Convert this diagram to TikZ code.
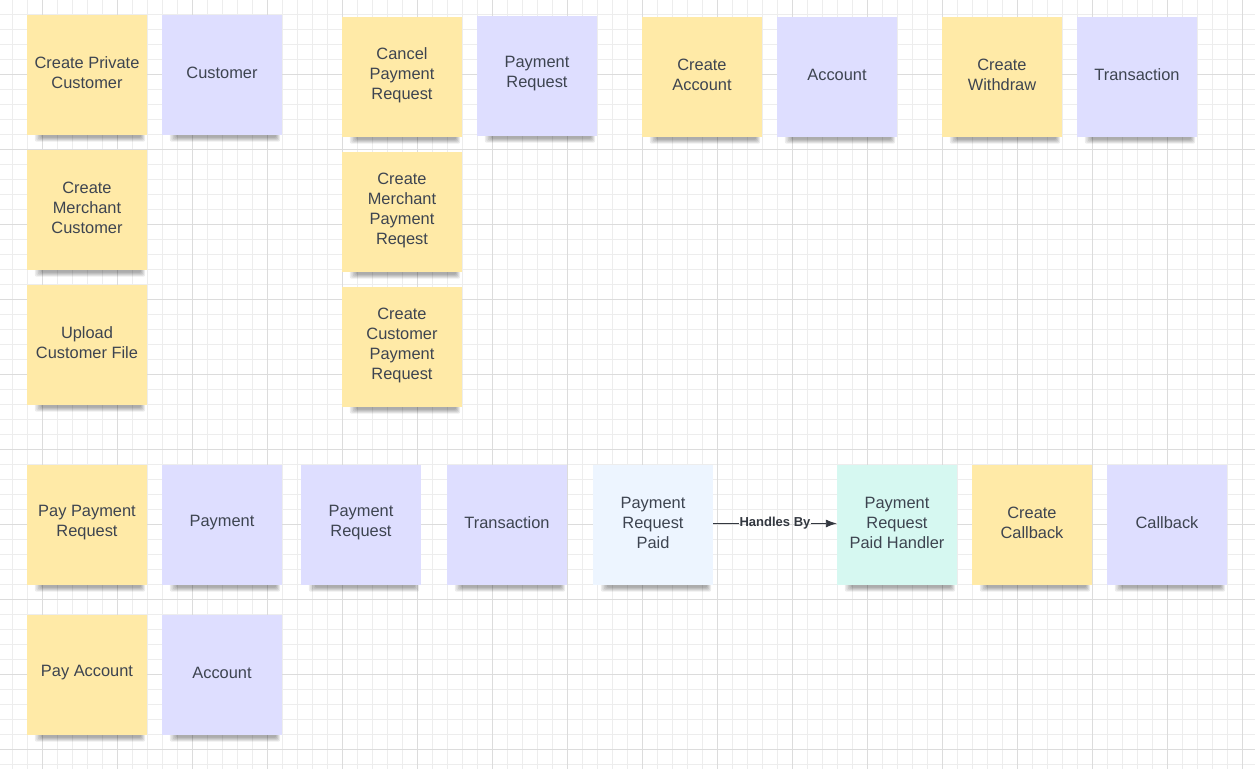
\documentclass[tikz,border=0pt]{standalone}
\usepackage{fontspec}
\setmainfont{Liberation Sans}
\usetikzlibrary{arrows.meta,calc}
\pgfdeclarelayer{gridlayer}
\pgfdeclarelayer{shadowlayer}
\pgfsetlayers{gridlayer,shadowlayer,main}
\definecolor{gridminor}{HTML}{EDEDED}
\definecolor{gridmajor}{HTML}{DCDCDC}
\definecolor{noteyellow}{HTML}{FFEAA7}
\definecolor{notelav}{HTML}{DEDEFF}
\definecolor{noteblue}{HTML}{EDF5FF}
\definecolor{notemint}{HTML}{D6F8F1}
\definecolor{notetext}{HTML}{3D4450}
\definecolor{arrowcol}{HTML}{333840}
\tikzset{
  notelabel/.style={align=center, text=notetext, font=\fontsize{16.4bp}{20bp}\selectfont,
    inner sep=0pt, yshift=2bp},
  note/.style={rectangle, minimum width=120bp, minimum height=120bp, inner sep=0pt,
    label={[notelabel]center:{#1}}},
  yel/.style={note={#1}, fill=noteyellow},
  lav/.style={note={#1}, fill=notelav},
  lblue/.style={note={#1}, fill=noteblue},
  mint/.style={note={#1}, fill=notemint},
  shadowpiece/.style={fill=black, opacity=0.075, rounded corners=2bp},
  conlabel/.style={font=\fontsize{13bp}{15bp}\selectfont\bfseries, text=arrowcol, inner sep=0pt},
  conline/.style={draw=arrowcol, line width=0.9bp}
}
\begin{document}
\begin{tikzpicture}[x=1bp,y=-1bp]
\useasboundingbox (0,0) rectangle (1255,769);
\begin{pgfonlayer}{gridlayer}
\fill[white] (0,0) rectangle (1255,769);
\foreach \i in {0,...,83} {
  \draw[gridminor, line width=1bp] ({12.5+15*\i},0) -- ({12.5+15*\i},769);
}
\foreach \i in {0,...,51} {
  \draw[gridminor, line width=1bp] (0,{-0.5+15*\i}) -- (1255,{-0.5+15*\i});
}
\foreach \i in {0,...,16} {
  \draw[gridmajor, line width=1bp] ({42.5+75*\i},0) -- ({42.5+75*\i},769);
}
\foreach \i in {0,...,10} {
  \draw[gridmajor, line width=1bp] (0,{-0.5+75*\i}) -- (1255,{-0.5+75*\i});
}
\end{pgfonlayer}
% top section
\node[yel={Create Private\\Customer}] (cpc) at (87,75) {};
\node[lav={Customer}] (cust) at (222,75) {};
\node[yel={Create\\Merchant\\Customer}] (cmc) at (87,210) {};
\node[yel={Upload\\Customer File}] (ucf) at (87,345) {};
\node[yel={Cancel\\Payment\\Request}] (cpr) at (402,77) {};
\node[lav={Payment\\Request}] (pr1) at (537,76) {};
\node[yel={Create\\Merchant\\Payment\\Reqest}] (cmpr) at (402,212) {};
\node[yel={Create\\Customer\\Payment\\Request}] (ccpr) at (402,347) {};
\node[yel={Create\\Account}] (cacc) at (702,77) {};
\node[lav={Account}] (acc1) at (837,77) {};
\node[yel={Create\\Withdraw}] (cwd) at (1002,77) {};
\node[lav={Transaction}] (tx1) at (1137,77) {};
% bottom section
\node[yel={Pay Payment\\Request}] (ppr) at (87,525) {};
\node[lav={Payment}] (pay) at (222,525) {};
\node[lav={Payment\\Request}] (pr2) at (361,525) {};
\node[lav={Transaction}] (tx2) at (507,525) {};
\node[lblue={Payment\\Request\\Paid}] (prp) at (653,525) {};
\node[mint={Payment\\Request\\Paid Handler}] (prph) at (897,525) {};
\node[yel={Create\\Callback}] (ccb) at (1032,525) {};
\node[lav={Callback}] (cb) at (1167,525) {};
\node[yel={Pay Account}] (pacc) at (87,675) {};
\node[lav={Account}] (acc2) at (222,675) {};
% shadows
\begin{pgfonlayer}{shadowlayer}
\foreach \n in {cpc,cust,cmc,ucf,cpr,pr1,cmpr,ccpr,cacc,acc1,cwd,tx1,ppr,pay,pr2,tx2,prp,prph,ccb,cb,pacc,acc2} {
  \foreach \k in {0,...,4} {
    \fill[shadowpiece] ($(\n.south west)+({14-1.5*\k},-4)$) rectangle ($(\n.south east)+({-6+\k},{2.5+\k})$);
  }
}
\end{pgfonlayer}
% connector
\node[conlabel] (hb) at (775,523.5) {Handles By};
\draw[conline] (prp.east |- hb.west) -- (hb.west);
\draw[conline, -{Latex[length=11bp,width=8bp]}] (hb.east) -- (prph.west |- hb.east);
\end{tikzpicture}
\end{document}
